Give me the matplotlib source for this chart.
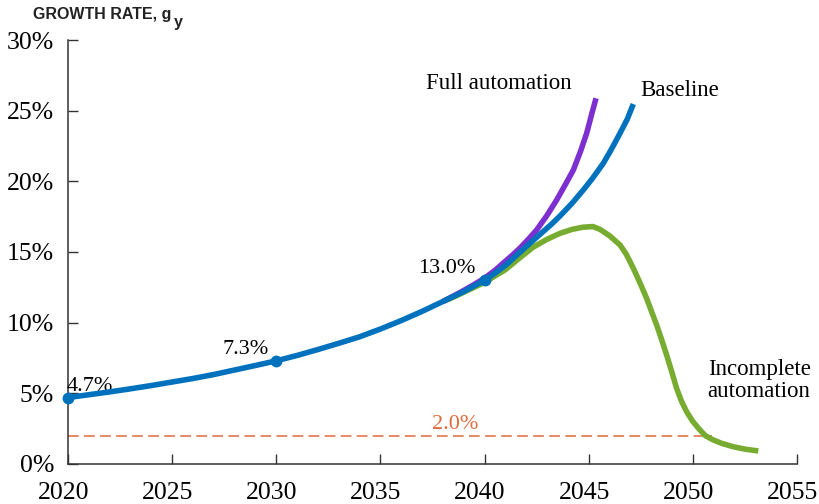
import matplotlib
matplotlib.use("Agg")
import matplotlib.pyplot as plt
from matplotlib.transforms import ScaledTranslation

# ---------- data ----------
common_years = [2020, 2021, 2022, 2023, 2024, 2025, 2026, 2027, 2028, 2029,
                2030, 2031, 2032, 2033, 2034, 2035, 2036, 2037, 2038]
common_rates = [4.7, 4.9, 5.1, 5.32, 5.55, 5.8, 6.05, 6.33, 6.65, 6.97,
                7.3, 7.68, 8.1, 8.54, 9.0, 9.55, 10.15, 10.8, 11.5]

base_years = [2038.5, 2039, 2039.5, 2040, 2040.5, 2041, 2041.86, 2042.66, 2043.2,
              2043.62, 2044.2, 2044.74, 2045.2, 2045.7, 2046.1, 2046.5, 2046.85, 2047.14]
base_rates = [11.85, 12.2, 12.6, 13.0, 13.5, 14.05, 15.2, 16.25, 16.95,
              17.55, 18.45, 19.39, 20.25, 21.28, 22.3, 23.4, 24.4, 25.47]

full_years = [2038.5, 2039, 2039.5, 2040, 2040.5, 2041, 2041.35, 2041.7, 2042.1, 2042.5,
              2043, 2043.46, 2043.85, 2044.26, 2044.6, 2044.9, 2045.15, 2045.35]
full_rates = [11.88, 12.28, 12.7, 13.15, 13.7, 14.35, 14.8, 15.28, 15.9, 16.56,
              17.6, 18.68, 19.7, 20.8, 22.1, 23.4, 24.8, 25.88]

inc_years = [2038.5, 2039, 2039.5, 2040, 2040.5, 2041, 2041.7, 2042.34, 2043, 2043.62,
             2044.2, 2044.7, 2045.2, 2045.54, 2046, 2046.5, 2046.8, 2047.14, 2047.45,
             2047.78, 2048.0, 2048.26, 2048.5, 2048.74, 2049.0, 2049.22, 2049.45, 2049.7,
             2050.0, 2050.34, 2050.6, 2050.98, 2051.4, 2051.94, 2052.5, 2053.14]
inc_rates = [11.8, 12.15, 12.5, 12.85, 13.3, 13.75, 14.6, 15.35, 15.9, 16.32,
             16.6, 16.75, 16.8, 16.6, 16.15, 15.5, 14.85, 13.85, 12.85,
             11.72, 10.85, 9.84, 8.8, 7.71, 6.45, 5.35, 4.45, 3.7,
             3.0, 2.41, 2.0, 1.7, 1.45, 1.22, 1.05, 0.92]

marker_years = [2020, 2030, 2040]
marker_rates = [4.7, 7.3, 13.0]
marker_labels = ['4.7%', '7.3%', '13.0%']

ref_rate = 2.0
ref_end = 2050.9

BLUE = '#0072BD'
PURPLE = '#7E2FD0'
GREEN = '#77AC30'
ORANGE = '#E06A3B'
SERIF = 'Liberation Serif'

fig = plt.figure(figsize=(8.2, 5.04), dpi=100)
ax = fig.add_axes([0.0829, 0.0794, 0.8891, 0.8412])

lw = 4.0
ax.plot(common_years[-1:] + inc_years, common_rates[-1:] + inc_rates,
        color=GREEN, lw=lw, solid_capstyle='butt', solid_joinstyle='round', zorder=2)
ax.plot(common_years[-1:] + full_years, common_rates[-1:] + full_rates,
        color=PURPLE, lw=lw, solid_capstyle='butt', solid_joinstyle='round', zorder=3)
ax.plot(common_years + base_years, common_rates + base_rates,
        color=BLUE, lw=lw, solid_capstyle='butt', solid_joinstyle='round', zorder=4)
ax.plot(marker_years, marker_rates, 'o', color=BLUE, ms=7.5, zorder=5, clip_on=False)

# 2% reference line
ax.plot([2020, ref_end], [ref_rate, ref_rate], ls=(0, (7, 3.5)), color=ORANGE, lw=1.1, zorder=1)
ax.text(2038.58, ref_rate + 0.48, '2.0%', color=ORANGE, fontsize=16, family=SERIF,
        ha='center', va='baseline')

# point labels
ax.text(2019.95, 5.19, marker_labels[0], fontsize=16, family=SERIF, ha='left', va='baseline')
ax.text(2028.55, 7.78, marker_labels[1], fontsize=16, family=SERIF, ha='center', va='baseline')
ax.text(2038.2, 13.5, marker_labels[2], fontsize=16, family=SERIF, ha='center', va='baseline')

# series labels
ax.text(2040.66, 26.5, 'Full automation', fontsize=16.5, family=SERIF, ha='center', va='baseline')
ax.text(2047.46, 26.06, 'Baseline', fontsize=16.5, family=SERIF, ha='left', va='baseline')
ax.text(2055.65, 4.75, 'Incomplete\nautomation', fontsize=16.5, family=SERIF, ha='right',
        ma='right', va='baseline', linespacing=1.05)

ax.set_xlim(2020, 2055)
ax.set_ylim(0, 30)
ax.set_xticks(range(2020, 2056, 5))
ax.set_yticks(range(0, 31, 5))
ax.set_yticklabels([f'{v}%' for v in range(0, 31, 5)])
ax.tick_params(direction='in', length=7, width=1, color='#333333')
ax.tick_params(axis='x', pad=13)
ax.tick_params(axis='y', pad=10)
for lab in ax.get_xticklabels() + ax.get_yticklabels():
    lab.set_family(SERIF)
    lab.set_fontsize(18.5)
# x labels sit a few px left of their ticks in the reference
shift = ScaledTranslation(-0.045, 0, fig.dpi_scale_trans)
for lab in ax.get_xticklabels():
    lab.set_transform(lab.get_transform() + shift)
for s in ['top', 'right']:
    ax.spines[s].set_visible(False)
for s in ['left', 'bottom']:
    ax.spines[s].set_color('#333333')
    ax.spines[s].set_linewidth(1.1)

# axis title, with subscript y
fig.text(0.040, 0.972, 'GROWTH RATE, g', fontsize=11.5, fontweight='bold',
         family='Liberation Sans', ha='left', va='center', color='#222222')
fig.text(0.2115, 0.956, 'y', fontsize=11.5, fontweight='bold',
         family='Liberation Sans', ha='left', va='center', color='#222222')

fig.savefig('out.png', dpi=100)
